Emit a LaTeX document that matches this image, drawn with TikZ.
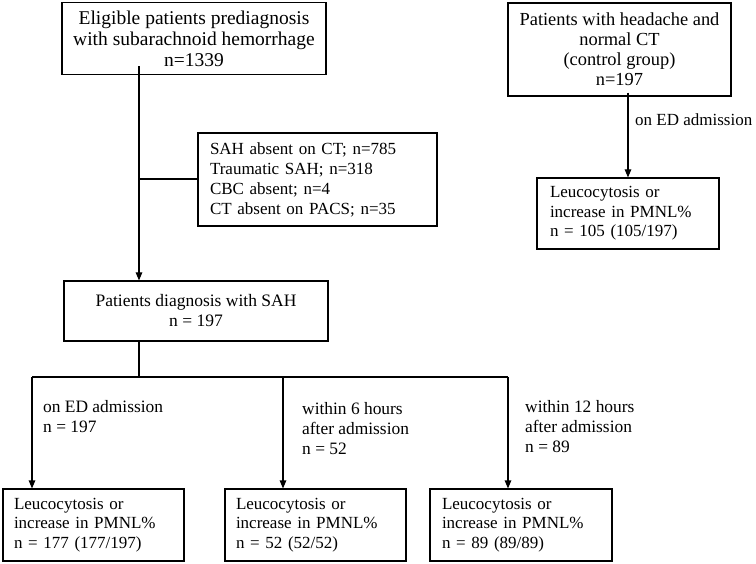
\documentclass[tikz,border=0pt]{standalone}
\usepackage{fontspec}
\setmainfont{Liberation Serif}
\usetikzlibrary{arrows.meta}
\begin{document}
\begin{tikzpicture}[x=1pt,y=-1pt,
  every node/.style={font=\fontsize{17}{20}\selectfont},
  box/.style={draw,line width=1.1pt,inner ysep=0pt},
  cbox/.style={box,align=center},
  lbox/.style={box,align=left,font=\fontsize{17}{19.5}\selectfont},
  lab/.style={inner sep=0pt,align=left,anchor=west},
  conn/.style={line width=1.1pt},
  arr/.style={conn,-{Triangle[length=8pt,width=6.5pt]}}]
\useasboundingbox (0,0) rectangle (756,564);
% top left
\node[cbox,minimum width=264pt,minimum height=72pt,font=\fontsize{19.5}{21}\selectfont] (box1) at (194,38.5)
  {Eligible patients prediagnosis\\with subarachnoid hemorrhage\\n=1339};
\node[lbox,inner xsep=12pt,text width=215pt,minimum height=93pt,font=\fontsize{17}{20}\selectfont] (excl) at (317.5,179.5)
  {SAH absent on CT; n=785\\Traumatic SAH; n=318\\CBC absent; n=4\\CT absent on PACS; n=35};
\node[cbox,minimum width=264pt,minimum height=60pt,font=\fontsize{17.5}{20}\selectfont] (sah) at (196,311)
  {Patients diagnosis with SAH\\n = 197};
% right
\node[cbox,minimum width=223pt,minimum height=93pt,font=\fontsize{18.4}{20}\selectfont] (ctrl) at (619.5,49.5)
  {Patients with headache and\\normal CT\\(control group)\\n=197};
\node[lbox,inner xsep=13pt,text width=156pt,minimum height=71pt] (rl) at (628,213.5)
  {Leucocytosis or\\increase in PMNL\%\\n = 105 (105/197)};
% bottom
\node[lbox,inner xsep=11pt,text width=159pt,minimum height=72pt] (ba) at (93.5,525)
  {Leucocytosis or\\increase in PMNL\%\\n = 177 (177/197)};
\node[lbox,inner xsep=11pt,text width=159pt,minimum height=72pt] (bb) at (315.5,525)
  {Leucocytosis or\\increase in PMNL\%\\n = 52 (52/52)};
\node[lbox,inner xsep=12pt,text width=158pt,minimum height=72pt] (bc) at (521,525)
  {Leucocytosis or\\increase in PMNL\%\\n = 89 (89/89)};
% connectors
\coordinate (j1) at (139,179);
\coordinate (j2) at (139,377);
\coordinate (hl) at (32,377);
\coordinate (hm) at (283,377);
\coordinate (hr) at (508,377);
\draw[arr] ([yshift=9pt]box1.south -| j1) -- (sah.north -| j1);
\draw[conn] (j1) -- (excl.west |- j1);
\draw[conn] (sah.south -| j2) -- (j2);
\draw[conn] (hl) -- (hr);
\draw[arr] (hl) -- (ba.north -| hl);
\draw[arr] (hm) -- (bb.north -| hm);
\draw[arr] (hr) -- (bc.north -| hr);
\draw[arr] ([yshift=4pt]ctrl.south -| rl.north) -- (rl.north);
% labels
\node[lab] (l0) at (635,120) {on ED admission};
\node[lab,font=\fontsize{17.4}{20}\selectfont] (la) at (43,417) {on ED admission\\n = 197};
\node[lab,font=\fontsize{17.4}{20}\selectfont] (lb) at (302,429) {within 6 hours\\after admission\\n = 52};
\node[lab,font=\fontsize{17.4}{20}\selectfont] (lc) at (525,427) {within 12 hours\\after admission\\n = 89};
\end{tikzpicture}
\end{document}
